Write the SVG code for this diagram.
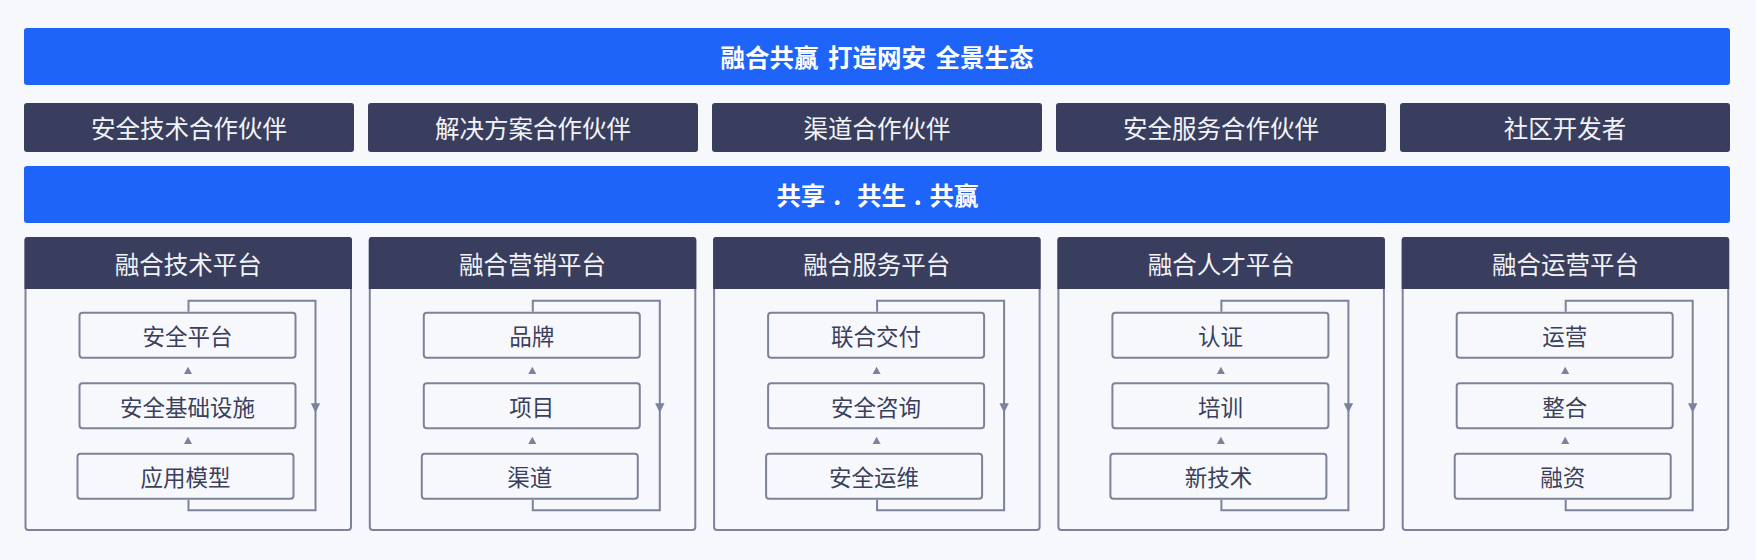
<svg xmlns="http://www.w3.org/2000/svg" xmlns:xlink="http://www.w3.org/1999/xlink" width="1756" height="560" viewBox="0 0 1756 560">
<style>
.bg{fill:#f6f8fc}
.bar{fill:#1e64f8}
.navy{fill:#393e5e}
.frame{fill:#f6f8fc;stroke:#7d829b;stroke-width:2}
.box{fill:#f6f8fc;stroke:#7d829b;stroke-width:2}
.loop{fill:none;stroke:#7d829b;stroke-width:2}
.tri{fill:#7d829b}
text{font-family:"Noto Sans CJK SC","Noto Sans",sans-serif;text-anchor:middle;dominant-baseline:central}
.title{fill:#ffffff;font-size:24.5px;font-weight:bold;word-spacing:4px}
.slogan{word-spacing:2.3px}
.ptxt{fill:#f2f3f7;font-size:24.5px}
.itxt{fill:#3a3f5c;font-size:22.5px}
</style>
<defs>
<path id="up" d="M0,-3.8 L4,3.4 L-4,3.4 Z"/>
<path id="down" d="M-4.7,-4.7 L4.7,-4.7 L0,4.7 Z"/>
</defs>
<rect class="bg" x="0" y="0" width="1756" height="560"/>

<g id="title">
<rect class="bar" x="24" y="28" width="1706" height="57" rx="3"/>
<text class="title" x="877" y="56.5">融合共赢 打造网安 全景生态</text>
</g>

<g id="partner1"><rect class="navy" x="24" y="103" width="330" height="49" rx="3"/><text class="ptxt" x="189" y="127.5">安全技术合作伙伴</text></g>
<g id="partner2"><rect class="navy" x="368" y="103" width="330" height="49" rx="3"/><text class="ptxt" x="533" y="127.5">解决方案合作伙伴</text></g>
<g id="partner3"><rect class="navy" x="712" y="103" width="330" height="49" rx="3"/><text class="ptxt" x="877" y="127.5">渠道合作伙伴</text></g>
<g id="partner4"><rect class="navy" x="1056" y="103" width="330" height="49" rx="3"/><text class="ptxt" x="1221" y="127.5">安全服务合作伙伴</text></g>
<g id="partner5"><rect class="navy" x="1400" y="103" width="330" height="49" rx="3"/><text class="ptxt" x="1565" y="127.5">社区开发者</text></g>

<g id="slogan">
<rect class="bar" x="24" y="166" width="1706" height="57" rx="3"/>
<text class="title slogan" x="877.5" y="194.5" xml:space="preserve">共享 .  共生 . 共赢</text>
</g>

<g id="platform1" transform="translate(24.5,0)">
<rect class="frame" x="1" y="238" width="325.5" height="292" rx="3"/>
<path class="navy" d="M0,289 V240 Q0,237 3,237 H324.5 Q327.5,237 327.5,240 V289 Z"/>
<text class="ptxt" x="163.75" y="263">融合技术平台</text>
<g id="p1-n1"><rect class="box" x="55" y="312.7" width="216" height="45" rx="3"/><text class="itxt" x="163" y="335.2">安全平台</text></g>
<g id="p1-n2"><rect class="box" x="55" y="383.3" width="216" height="45" rx="3"/><text class="itxt" x="163" y="405.8">安全基础设施</text></g>
<g id="p1-n3"><rect class="box" x="53" y="453.7" width="216" height="45" rx="3"/><text class="itxt" x="161" y="476.2">应用模型</text></g>
</g>

<g id="platform2" transform="translate(368.8,0)">
<rect class="frame" x="1" y="238" width="325.5" height="292" rx="3"/>
<path class="navy" d="M0,289 V240 Q0,237 3,237 H324.5 Q327.5,237 327.5,240 V289 Z"/>
<text class="ptxt" x="163.75" y="263">融合营销平台</text>
<g id="p2-n1"><rect class="box" x="55" y="312.7" width="216" height="45" rx="3"/><text class="itxt" x="163" y="335.2">品牌</text></g>
<g id="p2-n2"><rect class="box" x="55" y="383.3" width="216" height="45" rx="3"/><text class="itxt" x="163" y="405.8">项目</text></g>
<g id="p2-n3"><rect class="box" x="53" y="453.7" width="216" height="45" rx="3"/><text class="itxt" x="161" y="476.2">渠道</text></g>
</g>

<g id="platform3" transform="translate(713.1,0)">
<rect class="frame" x="1" y="238" width="325.5" height="292" rx="3"/>
<path class="navy" d="M0,289 V240 Q0,237 3,237 H324.5 Q327.5,237 327.5,240 V289 Z"/>
<text class="ptxt" x="163.75" y="263">融合服务平台</text>
<g id="p3-n1"><rect class="box" x="55" y="312.7" width="216" height="45" rx="3"/><text class="itxt" x="163" y="335.2">联合交付</text></g>
<g id="p3-n2"><rect class="box" x="55" y="383.3" width="216" height="45" rx="3"/><text class="itxt" x="163" y="405.8">安全咨询</text></g>
<g id="p3-n3"><rect class="box" x="53" y="453.7" width="216" height="45" rx="3"/><text class="itxt" x="161" y="476.2">安全运维</text></g>
</g>

<g id="platform4" transform="translate(1057.4,0)">
<rect class="frame" x="1" y="238" width="325.5" height="292" rx="3"/>
<path class="navy" d="M0,289 V240 Q0,237 3,237 H324.5 Q327.5,237 327.5,240 V289 Z"/>
<text class="ptxt" x="163.75" y="263">融合人才平台</text>
<g id="p4-n1"><rect class="box" x="55" y="312.7" width="216" height="45" rx="3"/><text class="itxt" x="163" y="335.2">认证</text></g>
<g id="p4-n2"><rect class="box" x="55" y="383.3" width="216" height="45" rx="3"/><text class="itxt" x="163" y="405.8">培训</text></g>
<g id="p4-n3"><rect class="box" x="53" y="453.7" width="216" height="45" rx="3"/><text class="itxt" x="161" y="476.2">新技术</text></g>
</g>

<g id="platform5" transform="translate(1401.7,0)">
<rect class="frame" x="1" y="238" width="325.5" height="292" rx="3"/>
<path class="navy" d="M0,289 V240 Q0,237 3,237 H324.5 Q327.5,237 327.5,240 V289 Z"/>
<text class="ptxt" x="163.75" y="263">融合运营平台</text>
<g id="p5-n1"><rect class="box" x="55" y="312.7" width="216" height="45" rx="3"/><text class="itxt" x="163" y="335.2">运营</text></g>
<g id="p5-n2"><rect class="box" x="55" y="383.3" width="216" height="45" rx="3"/><text class="itxt" x="163" y="405.8">整合</text></g>
<g id="p5-n3"><rect class="box" x="53" y="453.7" width="216" height="45" rx="3"/><text class="itxt" x="161" y="476.2">融资</text></g>
</g>

<g id="connectors">
<g transform="translate(24.5,0)">
<path class="loop" d="M164,311.7 V300.7 H291 V510.3 H164 V499.7"/>
<use class="tri" xlink:href="#up" href="#up" x="163.5" y="370.5"/>
<use class="tri" xlink:href="#up" href="#up" x="163.5" y="440.5"/>
<use class="tri" xlink:href="#down" href="#down" x="291" y="408"/>
</g>
<g transform="translate(368.8,0)">
<path class="loop" d="M164,311.7 V300.7 H291 V510.3 H164 V499.7"/>
<use class="tri" xlink:href="#up" href="#up" x="163.5" y="370.5"/>
<use class="tri" xlink:href="#up" href="#up" x="163.5" y="440.5"/>
<use class="tri" xlink:href="#down" href="#down" x="291" y="408"/>
</g>
<g transform="translate(713.1,0)">
<path class="loop" d="M164,311.7 V300.7 H291 V510.3 H164 V499.7"/>
<use class="tri" xlink:href="#up" href="#up" x="163.5" y="370.5"/>
<use class="tri" xlink:href="#up" href="#up" x="163.5" y="440.5"/>
<use class="tri" xlink:href="#down" href="#down" x="291" y="408"/>
</g>
<g transform="translate(1057.4,0)">
<path class="loop" d="M164,311.7 V300.7 H291 V510.3 H164 V499.7"/>
<use class="tri" xlink:href="#up" href="#up" x="163.5" y="370.5"/>
<use class="tri" xlink:href="#up" href="#up" x="163.5" y="440.5"/>
<use class="tri" xlink:href="#down" href="#down" x="291" y="408"/>
</g>
<g transform="translate(1401.7,0)">
<path class="loop" d="M164,311.7 V300.7 H291 V510.3 H164 V499.7"/>
<use class="tri" xlink:href="#up" href="#up" x="163.5" y="370.5"/>
<use class="tri" xlink:href="#up" href="#up" x="163.5" y="440.5"/>
<use class="tri" xlink:href="#down" href="#down" x="291" y="408"/>
</g>
</g>
</svg>
